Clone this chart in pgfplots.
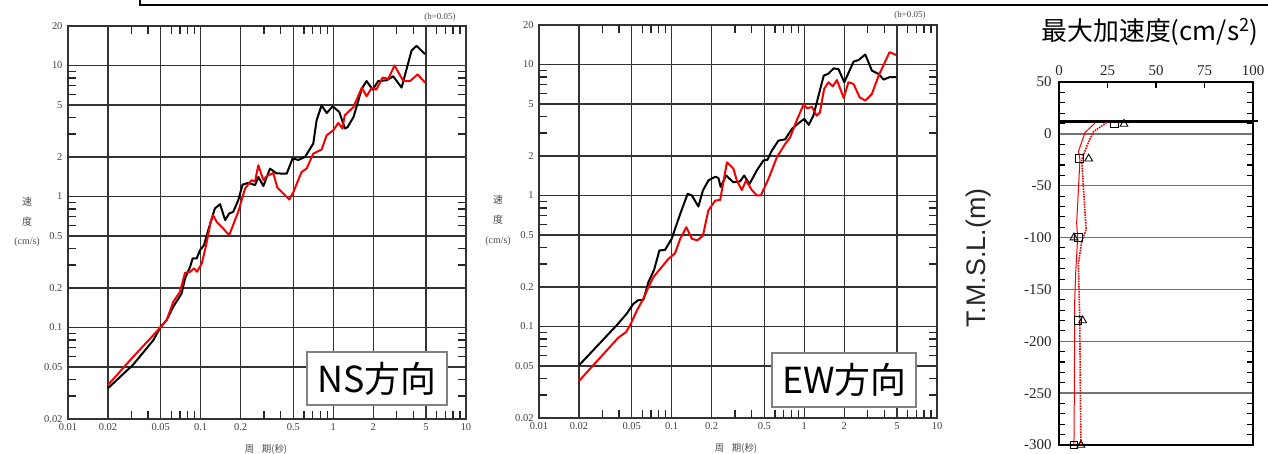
\documentclass[border=0pt]{standalone}
\usepackage{fontspec}
\usepackage{pgfplots}
\pgfplotsset{compat=1.18}
\setmainfont{Liberation Serif}
\setsansfont{Liberation Sans}
\newfontfamily\cjk{Noto Sans CJK JP}
\definecolor{redc}{RGB}{245,0,0}

\pgfplotstableread{
T v
0.02 0.0343
0.031 0.052
0.044 0.080
0.05 0.101
0.0555 0.114
0.0622 0.144
0.0719 0.182
0.0762 0.236
0.0832 0.290
0.0871 0.336
0.0933 0.336
0.0989 0.389
0.106 0.425
0.114 0.552
0.128 0.809
0.140 0.873
0.153 0.659
0.164 0.741
0.176 0.762
0.192 0.935
0.207 1.23
0.229 1.27
0.257 1.22
0.272 1.41
0.297 1.20
0.333 1.63
0.374 1.50
0.445 1.49
0.493 1.95
0.546 1.90
0.611 2.00
0.706 2.53
0.748 3.81
0.816 4.96
0.891 4.33
0.989 4.87
1.11 4.41
1.22 3.30
1.28 3.38
1.42 4.04
1.64 6.65
1.78 7.61
1.98 6.53
2.18 7.6
2.52 7.7
2.83 8.26
3.27 6.77
3.89 13.0
4.24 14.1
4.91 12.2
}\nsblack

\pgfplotstableread{
T v
0.02 0.0363
0.031 0.0597
0.044 0.0873
0.05 0.101
0.0555 0.114
0.0622 0.157
0.0698 0.187
0.0762 0.261
0.0832 0.266
0.0891 0.282
0.0939 0.266
0.102 0.308
0.110 0.425
0.119 0.640
0.124 0.719
0.132 0.640
0.144 0.586
0.164 0.506
0.192 0.762
0.216 1.15
0.242 1.33
0.257 1.30
0.272 1.73
0.297 1.33
0.314 1.43
0.353 1.51
0.378 1.17
0.420 1.05
0.466 0.947
0.50 1.08
0.530 1.25
0.577 1.54
0.629 1.63
0.706 2.12
0.816 2.28
0.891 2.93
1.0 3.20
1.09 3.64
1.17 3.30
1.22 4.16
1.42 4.82
1.64 6.77
1.78 5.82
1.95 6.77
2.11 6.53
2.35 8.08
2.60 7.9
2.89 10.0
3.37 7.61
3.79 7.6
4.32 8.55
4.91 7.40
}\nsred

\pgfplotstableread{
T v
0.02 0.0504
0.0385 0.102
0.0458 0.125
0.0515 0.149
0.0561 0.159
0.0612 0.159
0.0668 0.218
0.0737 0.270
0.0808 0.380
0.0892 0.384
0.100 0.467
0.116 0.723
0.132 1.03
0.142 1.00
0.159 0.822
0.172 1.09
0.189 1.30
0.213 1.39
0.225 1.36
0.234 1.16
0.257 1.42
0.292 1.26
0.328 1.28
0.352 1.42
0.386 1.22
0.438 1.55
0.492 1.85
0.527 1.87
0.569 2.20
0.638 2.62
0.717 2.68
0.805 3.22
0.904 3.56
1.0 3.84
1.08 3.46
1.17 4.06
1.28 5.78
1.40 8.21
1.52 8.5
1.66 9.33
1.81 9.2
2.0 7.31
2.35 10.5
2.56 10.8
2.88 11.9
3.23 8.97
3.63 8.45
3.96 7.66
4.39 8.0
4.93 8.0
}\ewblack

\pgfplotstableread{
T v
0.02 0.0383
0.0396 0.082
0.0453 0.0906
0.0486 0.102
0.0546 0.132
0.0612 0.163
0.0668 0.199
0.0728 0.238
0.0841 0.284
0.0946 0.328
0.106 0.362
0.116 0.467
0.129 0.572
0.142 0.467
0.156 0.454
0.172 0.493
0.189 0.767
0.213 0.914
0.232 0.923
0.261 1.79
0.292 1.60
0.310 1.30
0.338 1.10
0.364 1.30
0.402 1.10
0.438 1.0
0.470 1.0
0.537 1.34
0.621 1.96
0.717 2.47
0.782 2.78
0.879 3.77
0.987 4.94
1.05 4.63
1.14 4.74
1.24 4.06
1.31 4.3
1.41 6.50
1.52 7.31
1.64 6.8
1.76 7.6
1.98 5.55
2.15 7.31
2.35 7.1
2.61 5.61
2.88 5.30
3.23 5.95
3.63 8.2
4.39 12.4
4.93 11.8
}\ewred

\begin{document}
\begin{tikzpicture}
\useasboundingbox (0,0) rectangle (1268bp,454bp);
\draw[line width=2bp] (140bp,456bp) -- (140bp,449bp) -- (1270bp,449bp);

% NS
\begin{axis}[at={(68bp,35bp)},
  anchor=south west, scale only axis, width=398bp, height=393bp,
  xmode=log, ymode=log,
  xmin=0.01, xmax=10, ymin=0.02, ymax=20,
  xtick={0.01,0.02,0.05,0.1,0.2,0.5,1,2,5,10},
  xticklabels={0.01,0.02,0.05,0.1,0.2,0.5,1,2,5,10},
  ytick={0.02,0.05,0.1,0.2,0.5,1,2,5,10,20},
  yticklabels={0.02,0.05,0.1,0.2,0.5,1,2,5,10,20},
  extra x ticks={0.03,0.04,0.06,0.07,0.08,0.09,0.3,0.4,0.6,0.7,0.8,0.9,3,4,6,7,8,9},
  extra y ticks={0.03,0.04,0.06,0.07,0.08,0.09,0.3,0.4,0.6,0.7,0.8,0.9,3,4,6,7,8,9},
  extra x tick labels={}, extra y tick labels={},
  extra tick style={grid=none, major tick length=8bp, tick style={black!85, line width=1.3bp}},
  ticks=both,
  xmajorgrids, ymajorgrids,
  major grid style={black!80, line width=1.3bp},
  major tick length=0pt,
  axis line style={black!80, line width=2bp},
  tick label style={font=\fontsize{10.5}{12}\selectfont, text=black!75},
  xticklabel style={yshift=-1bp},
  yticklabel style={xshift=-2bp}]
\addplot[black, line width=2bp, line join=round] table[x=T,y=v] {\nsblack};
\addplot[redc, line width=2bp, line join=round] table[x=T,y=v] {\nsred};
\node[draw=black!50, line width=1.8bp, fill=white, minimum width=140bp, minimum height=53bp, inner sep=0pt,
  font=\cjk\fontsize{36}{40}\selectfont] at (axis cs:2.13,0.0407) {NS方向};
\end{axis}
\node[font=\fontsize{9}{10}\selectfont, text=black!70] at (440bp,437bp) {(h=0.05)};
\node[font=\cjk\fontsize{10}{11}\selectfont, text=black!70] at (27bp,252bp) {速};
\node[font=\cjk\fontsize{10}{11}\selectfont, text=black!70] at (27bp,232bp) {度};
\node[font=\fontsize{10}{11}\selectfont, text=black!70] at (27bp,212bp) {(cm/s)};
\node[font=\cjk\fontsize{9.5}{11}\selectfont, text=black!70] at (266bp,5bp) {周\hspace{0.8em}期(秒)};

% EW
\begin{axis}[at={(539bp,36bp)},
  anchor=south west, scale only axis, width=398bp, height=393bp,
  xmode=log, ymode=log,
  xmin=0.01, xmax=10, ymin=0.02, ymax=20,
  xtick={0.01,0.02,0.05,0.1,0.2,0.5,1,2,5,10},
  xticklabels={0.01,0.02,0.05,0.1,0.2,0.5,1,2,5,10},
  ytick={0.02,0.05,0.1,0.2,0.5,1,2,5,10,20},
  yticklabels={0.02,0.05,0.1,0.2,0.5,1,2,5,10,20},
  extra x ticks={0.03,0.04,0.06,0.07,0.08,0.09,0.3,0.4,0.6,0.7,0.8,0.9,3,4,6,7,8,9},
  extra y ticks={0.03,0.04,0.06,0.07,0.08,0.09,0.3,0.4,0.6,0.7,0.8,0.9,3,4,6,7,8,9},
  extra x tick labels={}, extra y tick labels={},
  extra tick style={grid=none, major tick length=8bp, tick style={black!85, line width=1.3bp}},
  ticks=both,
  xmajorgrids, ymajorgrids,
  major grid style={black!80, line width=1.3bp},
  major tick length=0pt,
  axis line style={black!80, line width=2bp},
  tick label style={font=\fontsize{10.5}{12}\selectfont, text=black!75},
  xticklabel style={yshift=-1bp},
  yticklabel style={xshift=-2bp}]
\addplot[black, line width=2bp, line join=round] table[x=T,y=v] {\ewblack};
\addplot[redc, line width=2bp, line join=round] table[x=T,y=v] {\ewred};
\node[draw=black!50, line width=1.8bp, fill=white, minimum width=144bp, minimum height=54bp, inner sep=0pt,
  font=\cjk\fontsize{36}{40}\selectfont] at (axis cs:2.0,0.0389) {EW方向};
\end{axis}
\node[font=\fontsize{9}{10}\selectfont, text=black!70] at (910bp,439bp) {(h=0.05)};
\node[font=\cjk\fontsize{10}{11}\selectfont, text=black!70] at (498bp,254bp) {速};
\node[font=\cjk\fontsize{10}{11}\selectfont, text=black!70] at (498bp,234bp) {度};
\node[font=\fontsize{10}{11}\selectfont, text=black!70] at (498bp,213bp) {(cm/s)};
\node[font=\cjk\fontsize{9.5}{11}\selectfont, text=black!70] at (736bp,6bp) {周\hspace{0.8em}期(秒)};

% profile
\begin{axis}[anchor=south west, at={(1059bp,9bp)}, scale only axis, width=194bp, height=363bp,
  xmin=0, xmax=100, ymin=-300, ymax=50,
  xtick={0,25,50,75,100}, xticklabels={0,25,50,75,100},
  xticklabel pos=right,
  ytick={-300,-250,-200,-150,-100,-50,0,50},
  yticklabels={-300,-250,-200,-150,-100,-50,0,50},
  extra x ticks={25,50,75}, extra x tick labels={},
  extra y ticks={-290,-280,-270,-260,-240,-230,-220,-210,-190,-180,-170,-160,-140,-130,-120,-110,-90,-80,-70,-60,-40,-30,-20,-10,10,20,30,40},
  extra y tick labels={},
  extra x tick style={grid=none, major tick length=6bp, xtick pos=right, tick style={black, line width=1.1bp}},
  extra y tick style={grid=none, major tick length=6bp, tick style={black, line width=1.1bp}},
  ticks=both,
  ymajorgrids, major grid style={black!55, line width=1.3bp},
  major tick length=0pt,
  axis line style={black, line width=1.6bp},
  tick label style={font=\fontsize{15}{16}\selectfont, text=black!85},
  xticklabel style={yshift=3bp},
  yticklabel style={xshift=-4bp}]
\addplot[black, line width=2.2bp] coordinates {(0,12) (100,12)};
\addplot[redc, line width=1bp] coordinates {(18.6,10.5) (13.4,1.2) (10,-17) (10.8,-25) (9.1,-86) (9.6,-100) (8.6,-134) (8.1,-160) (7.9,-250) (7.7,-300)};
\addplot[redc, line width=1.6bp, densely dotted] coordinates {(24.6,11) (17.7,2) (14.3,-12) (11.7,-25) (13.4,-76) (14,-92) (11.7,-104) (10,-125) (10.7,-180) (11,-250) (11.3,-300)};
\addplot[only marks, mark=square, mark size=3.8bp, mark options={black, line width=0.9bp}] coordinates {(28.5,9.5) (10.5,-24) (10,-100) (9.8,-180) (7.7,-300)};
\addplot[only marks, mark=triangle, mark size=4.5bp, mark options={black, line width=0.9bp}] coordinates {(33.5,9.5) (15.3,-24) (7.7,-100) (12.2,-180) (11.3,-300)};
\end{axis}
\draw[line width=2.2bp] (1252bp,332.6bp) -- (1258bp,332.6bp);
\node[font=\cjk\fontsize{26}{28}\selectfont] at (1150bp,422bp) {最大加速度(cm/s\textsuperscript{2})};
\node[font=\sffamily\fontsize{27}{30}\selectfont, rotate=90, text=black!85] at (979bp,196bp) {T.M.S.L.(m)};
\end{tikzpicture}
\end{document}
